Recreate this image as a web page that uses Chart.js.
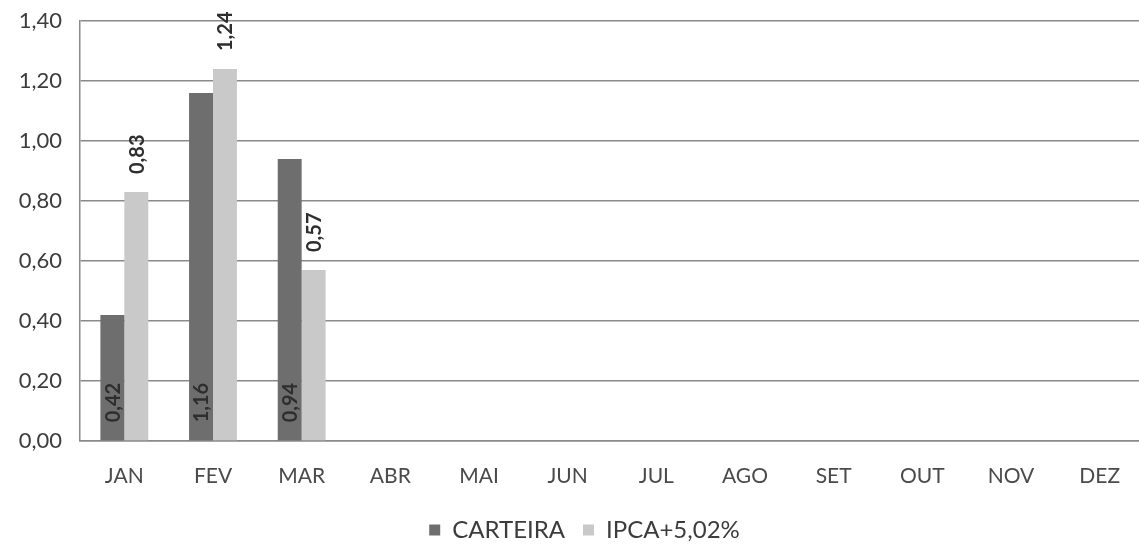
<!DOCTYPE html>
<html>
<head>
<meta charset="utf-8">
<script src="https://cdn.jsdelivr.net/npm/chart.js@4.4.1/dist/chart.umd.min.js"></script>
<style>
  html, body { margin: 0; padding: 0; background: #fff; overflow: hidden; }
  #wrap { width: 1146px; height: 547px; }
</style>
</head>
<body>
<div id="wrap"><canvas id="chart" width="1146" height="547"></canvas></div>
<script>
// dados
const meses = ['JAN', 'FEV', 'MAR', 'ABR', 'MAI', 'JUN', 'JUL', 'AGO', 'SET', 'OUT', 'NOV', 'DEZ'];
const carteira = [0.42, 1.16, 0.94, null, null, null, null, null, null, null, null, null];
const ipca = [0.83, 1.24, 0.57, null, null, null, null, null, null, null, null, null];
const yTicks = [0, 0.2, 0.4, 0.6, 0.8, 1.0, 1.2, 1.4];

const fmt = v => v.toFixed(2).replace('.', ',');
const FONT = 'Lato, "Open Sans", sans-serif';

// rotulos de valor girados (lendo de baixo para cima)
const rotulosPlugin = {
  id: 'rotulos',
  afterLayout(chart) {
    // legenda um pouco deslocada para a direita, como no original
    chart.legend.left += 25;
  },
  afterDatasetsDraw(chart) {
    const ctx = chart.ctx;
    ctx.save();
    ctx.font = 'bold 20px ' + FONT;
    ctx.fillStyle = '#2e2e2e';
    ctx.textAlign = 'left';
    ctx.textBaseline = 'middle';
    chart.data.datasets.forEach((ds, di) => {
      const meta = chart.getDatasetMeta(di);
      meta.data.forEach((bar, i) => {
        const v = ds.data[i];
        if (v == null) return;
        const gap = 18;
        // CARTEIRA: dentro, junto a base; IPCA: acima da barra
        const y0 = di === 0 ? bar.base - gap : bar.y - gap;
        ctx.save();
        ctx.translate(bar.x, y0);
        ctx.rotate(-Math.PI / 2);
        ctx.fillText(fmt(v), 0, 1);
        ctx.restore();
      });
    });
    ctx.restore();
  }
};

new Chart(document.getElementById('chart'), {
  type: 'bar',
  data: {
    labels: meses,
    datasets: [
      { label: 'CARTEIRA', data: carteira, backgroundColor: '#6e6e6e' },
      { label: 'IPCA+5,02%', data: ipca, backgroundColor: '#c9c9c9' }
    ]
  },
  options: {
    responsive: false,
    animation: false,
    layout: { padding: { top: 21, right: 2, bottom: -5, left: 0 } },
    datasets: { bar: { categoryPercentage: 0.54, barPercentage: 1.0 } },
    scales: {
      x: {
        grid: { display: false, drawTicks: false },
        border: { display: true, color: '#8a8a8a', width: 1.5 },
        ticks: { color: '#4a4a4a', font: { family: FONT, size: 21 }, padding: 23, maxRotation: 0 },
        afterFit(scale) { scale.height = 59; }
      },
      y: {
        min: 0,
        max: 1.4,
        afterBuildTicks(scale) { scale.ticks = yTicks.map(v => ({ value: v })); },
        grid: { color: '#8a8a8a', lineWidth: 1.4, drawTicks: false },
        border: { display: true, color: '#8a8a8a', width: 1.5 },
        ticks: {
          color: '#3c3c3c',
          font: { family: FONT, size: 22 },
          padding: 18,
          callback: v => fmt(v)
        },
        afterFit(scale) {
          scale.width = 80;
          scale.paddingTop = 0;
          scale.paddingBottom = 0;
        }
      }
    },
    plugins: {
      legend: {
        position: 'bottom',
        labels: {
          color: '#3c3c3c',
          font: { family: FONT, size: 24 },
          boxWidth: 11,
          boxHeight: 11,
          padding: 18,
          useBorderRadius: false
        }
      },
      tooltip: { enabled: false }
    }
  },
  plugins: [rotulosPlugin]
});
</script>
</body>
</html>
